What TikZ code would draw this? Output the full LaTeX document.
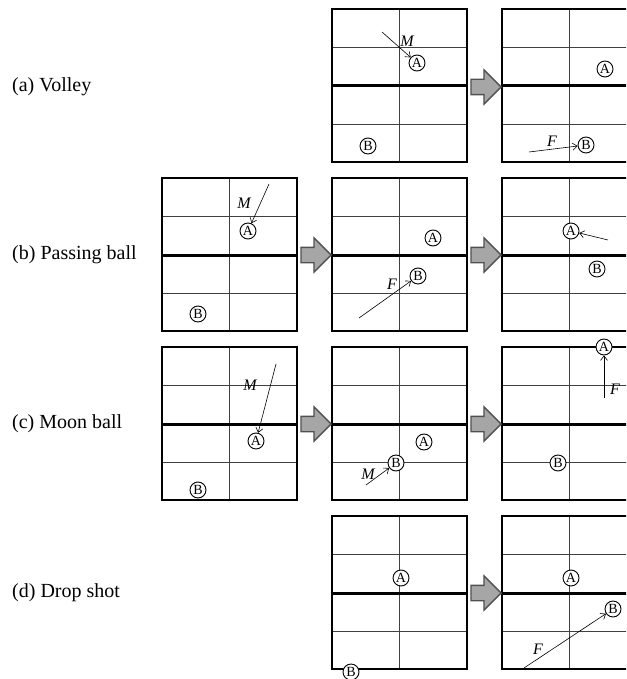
\documentclass[tikz,border=0pt]{standalone}
\usepackage{fontspec}
\setmainfont{Liberation Serif}
\usepackage{tikz}
\usetikzlibrary{arrows.meta, positioning, shapes.arrows}
\definecolor{chgFill}{HTML}{A6A6A6}
\definecolor{chgEdge}{HTML}{505050}
\definecolor{lineGray}{HTML}{404040}
\tikzset{
    every picture/.style={
        x=1pt,
        y=-1pt
    },
    % Court styles
    court/.style={draw=black, line width=1.9pt},
    gridline/.style={draw=lineGray, line width=0.8pt},
    netline/.style={draw=black, line width=3pt},
    % Player balls
    ball/.style={circle, draw=black, fill=white, line width=0.9pt, minimum size=16pt, inner sep=0pt, font=\fontsize{14}{14}\selectfont},
    % Shot and state change styles
    shot/.style={-{Straight Barb[length=4.5pt,width=7pt]}, line width=0.6pt},
    tag/.style={font=\fontsize{16}{16}\selectfont\itshape, inner sep=0pt},
    change/.style={single arrow, draw=chgEdge, fill=chgFill, line width=1.3pt, inner sep=7pt, minimum height=30pt, single arrow head extend=9.5pt, anchor=tip},
    rowtitle/.style={anchor=west, inner sep=0pt, font=\fontsize{20}{20}\selectfont}
}

\begin{document}
\begin{tikzpicture}
    \useasboundingbox (0,0) rectangle (626,679);
    \clip (0,0) rectangle (626,679);

    % Courts
    \foreach \cx/\cy in {332/9, 502/9, 162/178, 332/178, 502/178, 162/347, 332/347, 502/347, 332/516, 502/516} {
        \draw[gridline] (\cx,\cy+38.5) -- ++(135,0) (\cx,\cy+115) -- ++(135,0) (\cx+67.5,\cy) -- ++(0,153);
        \draw[netline] (\cx,\cy+77) -- ++(135,0);
        \draw[court] (\cx,\cy) rectangle ++(135,153);
    }

    % Row titles
    \node[rowtitle] (ta) at (12,87) {(a) Volley};
    \node[rowtitle] (tb) at (12,255) {(b) Passing ball};
    \node[rowtitle] (tc) at (12,424) {(c) Moon ball};
    \node[rowtitle] (td) at (12,593) {(d) Drop shot};

    % State changes
    \node[change] (ca2) at (502,87) {};
    \node[change] (cb1) at (332,255) {};
    \node[change] (cb2) at (502,255) {};
    \node[change] (cc1) at (332,424) {};
    \node[change] (cc2) at (502,424) {};
    \node[change] (cd2) at (502,593) {};

    % (a) Volley
    \node[ball] (a2A) at (417,63) {A};
    \node[ball] (a2B) at (368,146) {B};
    \coordinate (a2m) at (382,32);
    \draw[shot] (a2m) -- (a2A);
    \node[tag] (a2Ml) at (407,41) {M};
    \node[ball] (a3A) at (605,69) {A};
    \node[ball] (a3B) at (586,145) {B};
    \coordinate (a3f) at (529,152);
    \draw[shot] (a3f) -- (a3B);
    \node[tag] (a3Fl) at (552,141) {F};

    % (b) Passing ball
    \node[ball] (b1A) at (248,231) {A};
    \node[ball] (b1B) at (198,314) {B};
    \coordinate (b1m) at (269,184);
    \draw[shot] (b1m) -- (b1A);
    \node[tag] (b1Ml) at (244,203) {M};
    \node[ball] (b2A) at (433,238) {A};
    \node[ball] (b2B) at (418,276) {B};
    \coordinate (b2f) at (359,318);
    \draw[shot] (b2f) -- (b2B);
    \node[tag] (b2Fl) at (392,284) {F};
    \node[ball] (b3A) at (571,231) {A};
    \node[ball] (b3B) at (597,269) {B};
    \coordinate (b3f) at (608,240);
    \draw[shot] (b3f) -- (b3A);

    % (c) Moon ball
    \node[ball] (c1A) at (256,441) {A};
    \node[ball] (c1B) at (198,490) {B};
    \coordinate (c1m) at (276,364);
    \draw[shot] (c1m) -- (c1A);
    \node[tag] (c1Ml) at (250,385) {M};
    \node[ball] (c2A) at (424,442) {A};
    \node[ball] (c2B) at (396,463) {B};
    \coordinate (c2m) at (366,485);
    \draw[shot] (c2m) -- (c2B);
    \node[tag] (c2Ml) at (368,474) {M};
    \node[ball] (c3A) at (604,347) {A};
    \node[ball] (c3B) at (558,463) {B};
    \coordinate (c3f) at (604,398);
    \draw[shot] (c3f) -- (c3A);
    \node[tag] (c3Fl) at (615,389) {F};

    % (d) Drop shot
    \node[ball] (d2A) at (401,578) {A};
    \node[ball] (d2B) at (351,672) {B};
    \node[ball] (d3A) at (571,578) {A};
    \node[ball] (d3B) at (613,609) {B};
    \coordinate (d3f) at (524,668);
    \draw[shot] (d3f) -- (d3B);
    \node[tag] (d3Fl) at (538,649) {F};
\end{tikzpicture}
\end{document}
